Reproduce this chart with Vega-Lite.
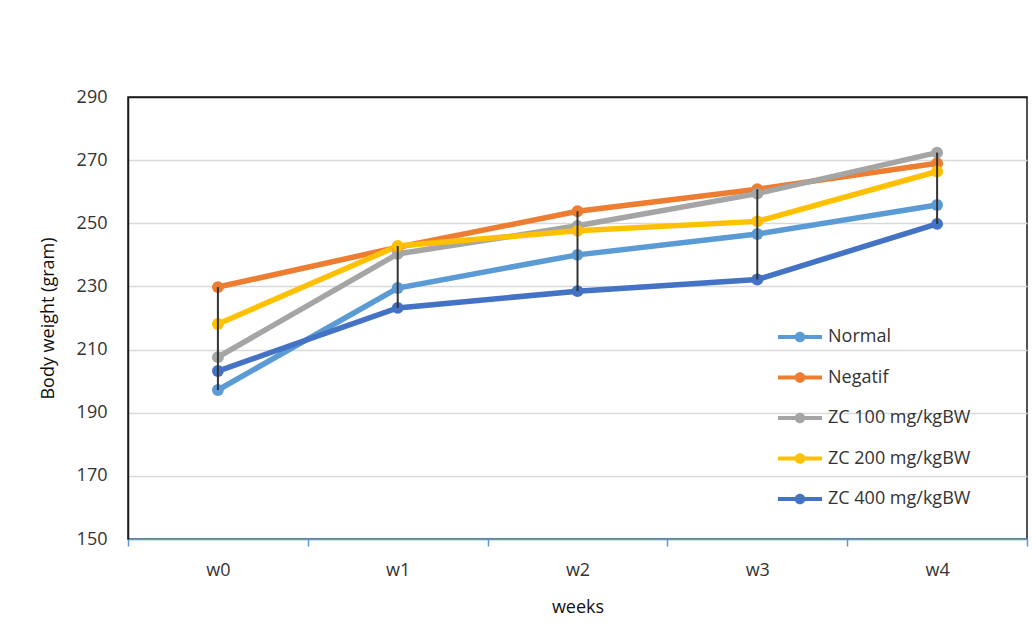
{
  "$schema": "https://vega.github.io/schema/vega-lite/v6.json",
  "width": 899,
  "height": 442,
  "autosize": {"type": "none"},
  "padding": {"left": 128, "top": 97, "right": 9, "bottom": 100},
  "background": "white",
  "config": {
    "font": "Open Sans",
    "view": {"stroke": "#1a1a1a", "strokeWidth": 1.5},
    "axis": {"labelFont": "Open Sans", "titleFont": "Open Sans", "labelColor": "#333333", "titleColor": "#111111", "labelFontSize": 18, "titleFontSize": 18, "titleFontWeight": "normal"}
  },
  "data": {
    "values": [
      {"week": "w0", "group": "Normal", "value": 197.2},
      {"week": "w1", "group": "Normal", "value": 229.5},
      {"week": "w2", "group": "Normal", "value": 240.0},
      {"week": "w3", "group": "Normal", "value": 246.6},
      {"week": "w4", "group": "Normal", "value": 255.8},
      {"week": "w0", "group": "Negatif", "value": 229.8},
      {"week": "w1", "group": "Negatif", "value": 242.4},
      {"week": "w2", "group": "Negatif", "value": 253.8},
      {"week": "w3", "group": "Negatif", "value": 260.8},
      {"week": "w4", "group": "Negatif", "value": 269.0},
      {"week": "w0", "group": "ZC 100 mg/kgBW", "value": 207.6},
      {"week": "w1", "group": "ZC 100 mg/kgBW", "value": 240.3},
      {"week": "w2", "group": "ZC 100 mg/kgBW", "value": 249.2},
      {"week": "w3", "group": "ZC 100 mg/kgBW", "value": 259.4},
      {"week": "w4", "group": "ZC 100 mg/kgBW", "value": 272.4},
      {"week": "w0", "group": "ZC 200 mg/kgBW", "value": 218.1},
      {"week": "w1", "group": "ZC 200 mg/kgBW", "value": 242.8},
      {"week": "w2", "group": "ZC 200 mg/kgBW", "value": 247.6},
      {"week": "w3", "group": "ZC 200 mg/kgBW", "value": 250.6},
      {"week": "w4", "group": "ZC 200 mg/kgBW", "value": 266.4},
      {"week": "w0", "group": "ZC 400 mg/kgBW", "value": 203.2},
      {"week": "w1", "group": "ZC 400 mg/kgBW", "value": 223.2},
      {"week": "w2", "group": "ZC 400 mg/kgBW", "value": 228.5},
      {"week": "w3", "group": "ZC 400 mg/kgBW", "value": 232.2},
      {"week": "w4", "group": "ZC 400 mg/kgBW", "value": 249.8}
    ]
  },
  "encoding": {
    "x": {
      "field": "week", "type": "nominal",
      "scale": {"paddingInner": 0, "paddingOuter": 0},
      "axis": {"labelAngle": 0, "title": "weeks", "tickBand": "extent", "domainColor": "#5B9BD5", "domainWidth": 1.5, "tickColor": "#5B9BD5", "tickWidth": 1.5, "tickSize": 7, "labelPadding": 15, "titlePadding": 19, "grid": false}
    }
  },
  "layer": [
    {
      "mark": {"type": "line", "strokeWidth": 5.5, "point": {"filled": true, "size": 140, "opacity": 1}},
      "encoding": {
        "y": {
          "field": "value", "type": "quantitative",
          "scale": {"domain": [150, 290], "nice": false, "zero": false},
          "axis": {"title": "Body weight (gram)", "values": [150, 170, 190, 210, 230, 250, 270, 290], "ticks": false, "domainColor": "#1a1a1a", "domainWidth": 1.5, "gridColor": {"condition": {"test": "datum.value === 290", "value": "#1a1a1a"}, "value": "#D9D9D9"}, "gridWidth": 1.5, "labelPadding": 21, "titlePadding": 19}
        },
        "color": {
          "field": "group", "type": "nominal",
          "sort": ["Normal", "Negatif", "ZC 100 mg/kgBW", "ZC 200 mg/kgBW", "ZC 400 mg/kgBW"],
          "scale": {"domain": ["Normal", "Negatif", "ZC 100 mg/kgBW", "ZC 200 mg/kgBW", "ZC 400 mg/kgBW"], "range": ["#5B9BD5", "#ED7D31", "#A5A5A5", "#FFC000", "#4472C4"]},
          "legend": {
            "title": null, "orient": "none", "legendX": 650, "legendY": 218,
            "symbolType": "M-1,-0.09L1,-0.09L1,0.09L-1,0.09Z M0.24,0A0.24,0.24,0,1,1,-0.24,0A0.24,0.24,0,1,1,0.24,0Z",
            "symbolSize": 1936, "symbolStrokeWidth": 0, "symbolOpacity": 1,
            "labelFont": "Open Sans", "labelFontSize": 18, "labelColor": "#333333", "labelOffset": 6, "rowPadding": 9.5
          }
        },
        "order": {"field": "group"}
      }
    },
    {
      "mark": {"type": "rule", "color": "#333333", "strokeWidth": 2},
      "encoding": {
        "y": {"aggregate": "max", "field": "value", "type": "quantitative"},
        "y2": {"aggregate": "min", "field": "value"}
      }
    }
  ]
}
